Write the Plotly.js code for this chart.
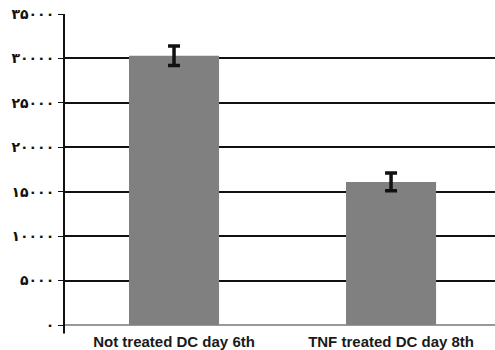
<!DOCTYPE html>
<html>
<head>
<meta charset="utf-8">
<script src="https://cdn.plot.ly/plotly-3.0.1.min.js"></script>
<style>html,body{margin:0;padding:0;background:#fff;}#chart{width:495px;height:350px;}</style>
</head>
<body>
<div id="chart"></div>
<script>
const categories = ["Not treated DC day 6th", "TNF treated DC day 8th"];
const values = [30300, 16100];
const errors = [1100, 1000];
const tickValues = [0, 5000, 10000, 15000, 20000, 25000, 30000, 35000];
const tickLabels = ["٠", "۵٠٠٠", "۱٠٠٠٠", "۱۵٠٠٠", "۲٠٠٠٠", "۲۵٠٠٠", "۳٠٠٠٠", "۳۵٠٠٠"];

const data = [{
  type: 'bar',
  x: categories,
  y: values,
  marker: {color: '#808080'},
  error_y: {type: 'data', array: errors, visible: true, color: '#111', thickness: 3.5, width: 6}
}];

const layout = {
  width: 495, height: 350,
  margin: {l: 64, r: 0, t: 14, b: 25},
  paper_bgcolor: '#fff', plot_bgcolor: '#fff',
  bargap: 0.585,
  showlegend: false,
  font: {family: 'DejaVu Sans, Arial, sans-serif', color: '#111'},
  xaxis: {
    range: [-0.507, 1.479],
    showgrid: false, showline: false, zeroline: false,
    ticks: '', tickfont: {family: 'Liberation Sans, Arial, sans-serif', size: 15, color: '#1a1a1a', weight: 'bold'},
    ticklabelstandoff: 6
  },
  yaxis: {
    range: [0, 35000],
    tickvals: tickValues, ticktext: tickLabels,
    showgrid: true, gridcolor: '#111', gridwidth: 2,
    zeroline: true, zerolinecolor: '#999', zerolinewidth: 2,
    showline: false,
    ticks: 'outside', ticklen: 5, tickcolor: '#111', tickwidth: 1,
    ticklabelstandoff: 1,
    tickfont: {family: 'DejaVu Sans, sans-serif', size: 14, color: '#111', weight: 'bold'}
  },
  shapes: [{
    type: 'line', xref: 'paper', yref: 'paper', x0: 0, x1: 0, y0: -0.027, y1: 1,
    line: {color: '#111', width: 2}
  }]
};

Plotly.newPlot('chart', data, layout, {displayModeBar: false, staticPlot: true});
</script>
</body>
</html>
